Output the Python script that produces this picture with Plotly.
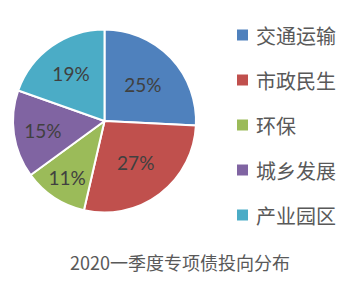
import plotly.graph_objects as go

categories = ["交通运输", "市政民生", "环保", "城乡发展", "产业园区"]
values = [25, 27, 11, 15, 19]
value_labels = ["25%", "27%", "11%", "15%", "19%"]
colors = ["#4F81BD", "#C0504D", "#9BBB59", "#8064A2", "#4BACC6"]
title_text = "2020一季度专项债投向分布"

W, H = 360, 283
cx, cy, r = 104.5, 121, 91.5

fig = go.Figure()
fig.add_trace(go.Pie(
    labels=categories,
    values=values,
    text=value_labels,
    textinfo="text",
    textposition="inside",
    insidetextorientation="horizontal",
    sort=False,
    direction="clockwise",
    rotation=0,
    marker=dict(colors=colors, line=dict(color="white", width=2)),
    textfont=dict(family="Lato, 'Noto Sans', sans-serif", size=19, color="#404040"),
    domain=dict(x=[(cx - r) / W, (cx + r) / W], y=[(H - cy - r) / H, (H - cy + r) / H]),
    showlegend=False,
    hoverinfo="label+percent",
))

shapes = []
annotations = []
for i, (cat, col) in enumerate(zip(categories, colors)):
    yc = 35 + 45 * i
    shapes.append(dict(type="rect", xref="paper", yref="paper",
                       x0=237 / W, x1=248 / W, y0=(H - yc - 5.5) / H, y1=(H - yc + 5.5) / H,
                       fillcolor=col, line=dict(width=0)))
    annotations.append(dict(text=cat, xref="paper", yref="paper", x=254 / W, y=(H - yc) / H,
                            xanchor="left", yanchor="middle", showarrow=False,
                            font=dict(family="Noto Sans CJK SC", size=20, color="#595959")))

annotations.append(dict(text=title_text, xref="paper", yref="paper", x=180 / W, y=(H - 262) / H,
                        xanchor="center", yanchor="middle", showarrow=False,
                        font=dict(family="Noto Sans CJK SC", size=18, color="#595959")))

fig.update_layout(
    width=W, height=H,
    margin=dict(l=0, r=0, t=0, b=0),
    paper_bgcolor="white", plot_bgcolor="white",
    shapes=shapes, annotations=annotations,
)

fig.write_html("out.html")
